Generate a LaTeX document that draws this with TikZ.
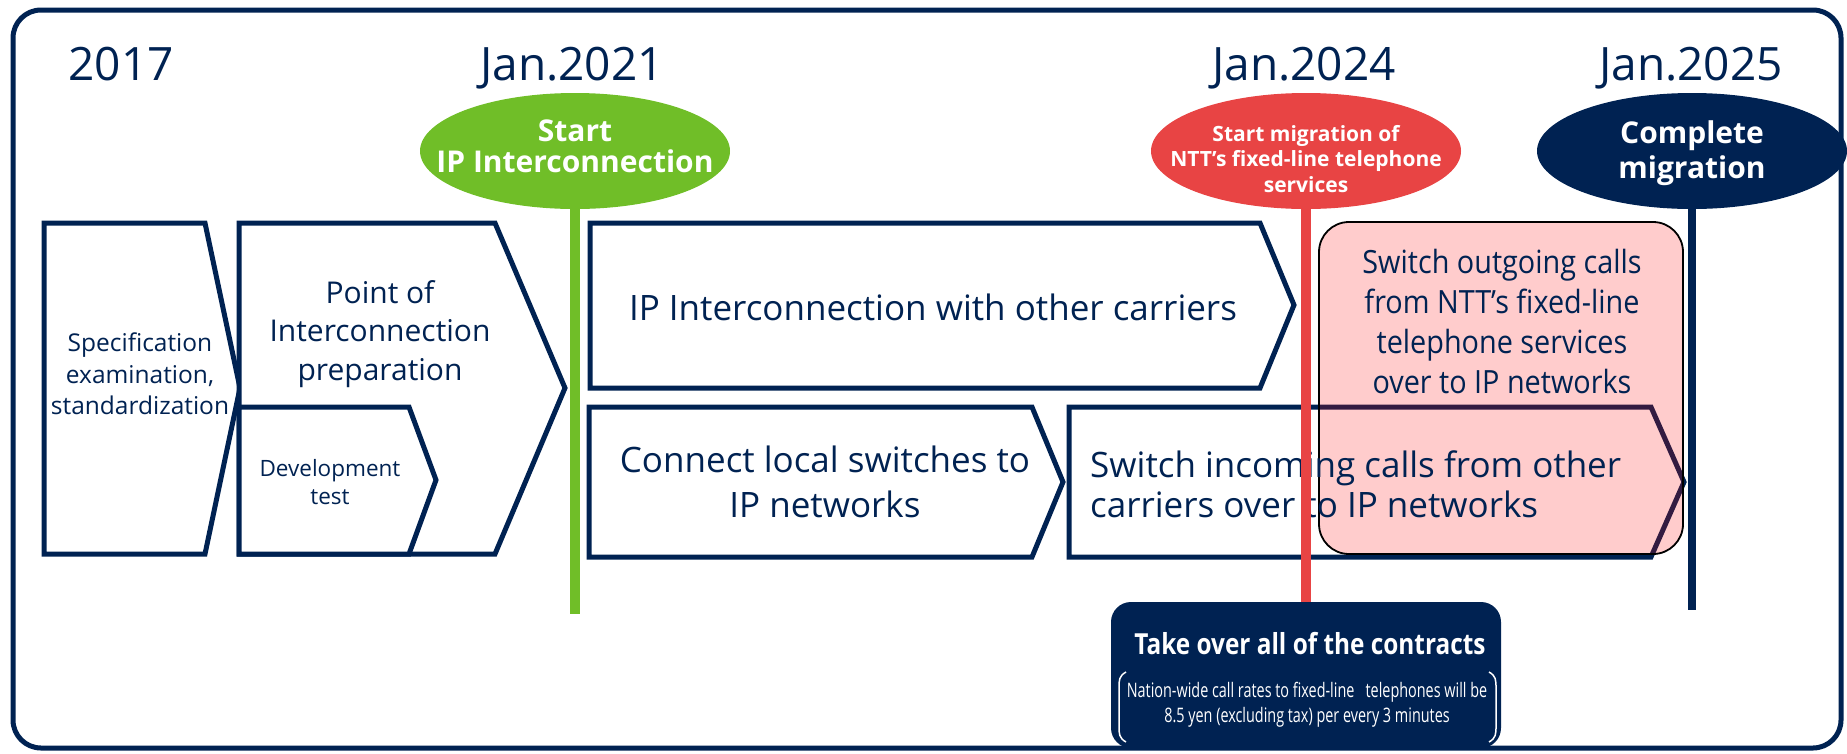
\documentclass[tikz,border=0pt]{standalone}
\usepackage{fontspec}
\setmainfont{Open Sans}
\newfontfamily\narrowfont{Open Sans}[FakeStretch=0.9]
\newfontfamily\condfont{Open Sans}[FakeStretch=0.84]
\newfontfamily\tightfont{Open Sans}[FakeStretch=0.72]
\usetikzlibrary{shapes.geometric}
\definecolor{navy}{RGB}{0,34,82}
\definecolor{leafgreen}{RGB}{112,190,40}
\definecolor{signalred}{RGB}{232,68,68}
\begin{document}
\begin{tikzpicture}[x=1pt, y=-1pt,
  stage/.style={draw=navy, line width=5pt, fill=white},
  year/.style={anchor=base, text=navy, font=\fontsize{46}{55}\selectfont},
  steptext/.style={text=navy, align=center, inner sep=0pt},
  milestone/.style={ellipse, minimum width=310pt, minimum height=116pt, inner sep=0pt},
  milestonetext/.style={text=white, align=center, inner sep=0pt},
  pole/.style={line width=10pt}]
\useasboundingbox (0,0) rectangle (1847,753);
\draw [navy, line width=5pt, rounded corners=28pt] (13,10) rectangle (1841,748);
\node [year] (y2017) at (121,80) {2017};
\node [year] (y2021) at (572,80) {Jan.2021};
\node [year] (y2024) at (1304,80) {Jan.2024};
\node [year] (y2025) at (1691,80) {Jan.2025};
\draw [stage] (44,223) -- (205,223) -- (240,388) -- (205,554) -- (44,554) -- cycle;
\draw [stage] (239,223) -- (495,223) -- (565,388) -- (495,554) -- (239,554) -- cycle;
\draw [stage] (239,407) -- (409,407) -- (436,480) -- (409,554) -- (239,554) -- cycle;
\draw [stage] (590,223) -- (1260,223) -- (1294,305) -- (1260,388) -- (590,388) -- cycle;
\draw [stage] (589,407) -- (1032,407) -- (1063,482) -- (1032,557) -- (589,557) -- cycle;
\draw [stage] (1069,407) -- (1651,407) -- (1684,482) -- (1651,557) -- (1069,557) -- cycle;
\draw [black, line width=1.8pt, rounded corners=30pt, fill=red, fill opacity=0.2] (1319,222) rectangle (1683,554);
\node [steptext, font=\fontsize{24.5}{31.5}\selectfont] (spec) at (140,374) {Specification\\examination,\\standardization};
\node [steptext, font=\fontsize{30}{38.5}\selectfont] (poi) at (380,334) {Point of\\Interconnection\\preparation};
\node [steptext, font=\fontsize{22.5}{28}\selectfont] (devtest) at (330,482) {Development\\test};
\node [steptext, anchor=base, font=\fontsize{35}{44}\selectfont] (ipic) at (933,320) {IP Interconnection with other carriers};
\node [steptext, font=\fontsize{35}{45}\selectfont] (local) at (825,482) {Connect local switches to\\IP networks};
\node [steptext, align=left, anchor=west, font=\fontsize{35}{40}\selectfont] (incoming) at (1090,484) {Switch incoming calls from other\\carriers over to IP networks};
\node [steptext, font=\narrowfont\fontsize{32}{40}\selectfont] (outgoing) at (1502,321) {Switch outgoing calls\\from NTT’s fixed-line\\telephone services\\over to IP networks};
\node [milestone, fill=leafgreen] (startip) at (575,151) {};
\node [milestone, fill=signalred] (startmig) at (1306,151) {};
\node [milestone, fill=navy] (complete) at (1692,151) {};
\node [milestonetext, font=\bfseries\fontsize{30}{31}\selectfont] (startiptext) at (575,146) {Start\\IP Interconnection};
\node [milestonetext, font=\bfseries\fontsize{21}{25.5}\selectfont] (startmigtext) at (1306,159) {Start migration of\\NTT’s fixed-line telephone\\services};
\node [milestonetext, font=\bfseries\fontsize{30}{35}\selectfont] (completetext) at (1692,153) {Complete\\migration};
\node [fill=navy, rounded corners=20pt, minimum width=390pt, minimum height=146pt, inner sep=0pt] (contract) at (1306,675) {};
\coordinate (greenend) at (575,614);
\coordinate (navyend) at (1692,610);
\draw [pole, leafgreen] (startip.south) -- (greenend);
\draw [pole, signalred] (startmig.south) -- (contract.north);
\draw [pole, navy, line width=8pt] (complete.south) -- (navyend);
\node [anchor=base, text=white, font=\condfont\bfseries\fontsize{29}{35}\selectfont] (takeover) at (1310,654) {Take over all of the contracts};
\node [text=white, align=center, inner sep=0pt, font=\tightfont\fontsize{20}{25}\selectfont] (rates) at (1307,705) {Nation-wide call rates to fixed-line \ \ telephones will be\\8.5 yen (excluding tax) per every 3 minutes};
\draw [white, line width=1.5pt] (1126,672) .. controls (1119,676) and (1119,680) .. (1119,688) -- (1119,726) .. controls (1119,734) and (1119,738) .. (1126,742);
\draw [white, line width=1.5pt] (1489,672) .. controls (1496,676) and (1496,680) .. (1496,688) -- (1496,726) .. controls (1496,734) and (1496,738) .. (1489,742);
\end{tikzpicture}
\end{document}
